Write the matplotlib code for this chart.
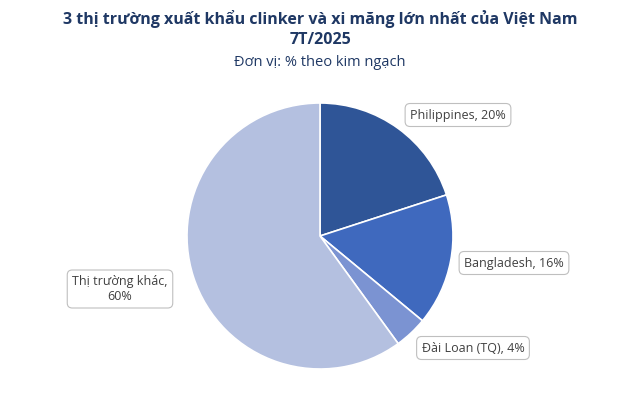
import matplotlib.pyplot as plt

labels = ["Philippines, 20%", "Bangladesh, 16%", "Đài Loan (TQ), 4%", "Thị trường khác,\n60%"]
values = [20, 16, 4, 60]
colors = ["#2F5597", "#3F69BE", "#7B93D2", "#B4C0E0"]

fig = plt.figure(figsize=(6.4, 4.01), dpi=100)
ax = fig.add_axes([0, 0, 1, 1])
ax.pie(values, colors=colors, startangle=90, counterclock=False, center=(320, 165), radius=133,
       wedgeprops=dict(edgecolor='white', linewidth=1.2))
ax.set_xlim(0, 640); ax.set_ylim(0, 401); ax.set_aspect('equal'); ax.axis('off')

pos = [(458, 286), (514, 138), (473, 53), (120, 112)]
for (x, y), t in zip(pos, labels):
    ax.text(x, y, t, ha='center', va='center', fontsize=9, color='#404040', family='Open Sans',
            bbox=dict(boxstyle='round,pad=0.4', fc='white', ec='#BFBFBF', lw=0.8))

fig.text(0.5, 0.975, "3 thị trường xuất khẩu clinker và xi măng lớn nhất của Việt Nam\n7T/2025",
         ha='center', va='top', fontsize=11.5, fontweight='bold', color='#1F3864', family='Open Sans', linespacing=1.3)
fig.text(0.5, 0.845, "Đơn vị: % theo kim ngạch", ha='center', va='center', fontsize=10.5, color='#1F3864', family='Open Sans')
fig.savefig("out.png", dpi=100)
